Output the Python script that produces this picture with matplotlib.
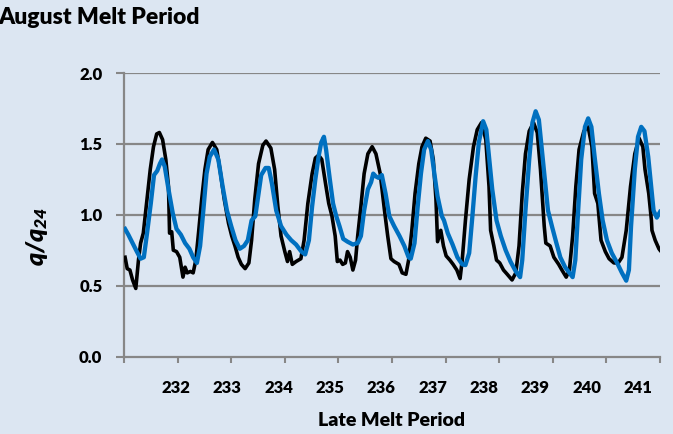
import matplotlib
matplotlib.use("Agg")
import matplotlib.pyplot as plt
from matplotlib.ticker import FixedLocator, NullFormatter

# ---- data (x = days since start of period, y = q/q24) ----
black_t = [0.02, 0.06, 0.11, 0.16, 0.22, 0.27, 0.31, 0.36, 0.42, 0.49, 0.55, 0.61, 0.66, 0.72, 0.78, 0.83,
           0.85, 0.89, 0.92, 0.98, 1.04, 1.10, 1.14, 1.18, 1.24, 1.29, 1.34, 1.39, 1.45, 1.51, 1.57, 1.65,
           1.73, 1.79, 1.87, 1.95, 2.01, 2.07, 2.13, 2.19, 2.26, 2.33, 2.38, 2.44, 2.51, 2.59, 2.65, 2.74,
           2.81, 2.87, 2.93, 3.00, 3.05, 3.09, 3.14, 3.21, 3.30, 3.36, 3.43, 3.51, 3.57, 3.63, 3.69, 3.76,
           3.82, 3.88, 3.94, 3.98, 4.03, 4.08, 4.13, 4.17, 4.22, 4.27, 4.32, 4.36, 4.42, 4.48, 4.55, 4.63,
           4.70, 4.78, 4.86, 4.92, 4.98, 5.04, 5.13, 5.19, 5.26, 5.31, 5.37, 5.43, 5.50, 5.56, 5.63, 5.71,
           5.77, 5.82, 5.85, 5.91, 5.96, 6.01, 6.08, 6.14, 6.21, 6.27, 6.31, 6.37, 6.44, 6.52, 6.59, 6.67,
           6.75, 6.81, 6.84, 6.90, 6.95, 7.01, 7.08, 7.15, 7.24, 7.31, 7.37, 7.43, 7.49, 7.56, 7.64, 7.71,
           7.77, 7.84, 7.87, 7.95, 8.02, 8.11, 8.17, 8.25, 8.31, 8.37, 8.43, 8.49, 8.58, 8.66, 8.73, 8.78,
           8.84, 8.90, 8.98, 9.05, 9.14, 9.22, 9.29, 9.37, 9.45, 9.53, 9.61, 9.68, 9.72, 9.79, 9.84, 9.85,
           9.91, 9.98, 10.00]
black_q = [0.70, 0.62, 0.61, 0.54, 0.48, 0.68, 0.80, 0.87, 1.08, 1.32, 1.48, 1.57, 1.58, 1.53, 1.39, 1.20,
           0.87, 0.88, 0.75, 0.74, 0.70, 0.56, 0.63, 0.59, 0.60, 0.59, 0.68, 0.87, 1.11, 1.32, 1.46, 1.51,
           1.46, 1.32, 1.11, 0.94, 0.85, 0.78, 0.70, 0.65, 0.62, 0.66, 0.82, 1.11, 1.36, 1.49, 1.52, 1.47,
           1.32, 1.06, 0.85, 0.74, 0.67, 0.74, 0.65, 0.67, 0.69, 0.82, 1.08, 1.29, 1.40, 1.42, 1.39, 1.22,
           1.08, 0.99, 0.85, 0.67, 0.68, 0.65, 0.66, 0.74, 0.70, 0.61, 0.68, 0.85, 1.06, 1.29, 1.43, 1.48,
           1.43, 1.29, 1.03, 0.85, 0.69, 0.67, 0.65, 0.59, 0.58, 0.68, 0.89, 1.15, 1.36, 1.48, 1.54, 1.52,
           1.39, 1.11, 0.81, 0.89, 0.78, 0.71, 0.68, 0.65, 0.61, 0.55, 0.68, 0.96, 1.25, 1.48, 1.60, 1.65,
           1.53, 1.20, 0.89, 0.78, 0.68, 0.66, 0.61, 0.58, 0.54, 0.59, 0.78, 1.15, 1.43, 1.59, 1.65, 1.58,
           1.32, 0.92, 0.80, 0.78, 0.70, 0.65, 0.61, 0.56, 0.61, 0.85, 1.20, 1.46, 1.59, 1.62, 1.48, 1.15,
           1.08, 0.82, 0.74, 0.69, 0.66, 0.66, 0.70, 0.89, 1.20, 1.43, 1.54, 1.48, 1.32, 1.15, 0.96, 0.89,
           0.82, 0.76, 0.75]

blue_t = [0.02, 0.08, 0.16, 0.24, 0.31, 0.37, 0.43, 0.50, 0.56, 0.62, 0.67, 0.71, 0.76, 0.83, 0.91, 0.98,
          1.06, 1.14, 1.22, 1.29, 1.36, 1.42, 1.48, 1.54, 1.60, 1.68, 1.76, 1.84, 1.92, 2.00, 2.08, 2.16,
          2.24, 2.31, 2.38, 2.45, 2.51, 2.56, 2.64, 2.70, 2.76, 2.84, 2.93, 3.03, 3.12, 3.21, 3.31, 3.38,
          3.45, 3.51, 3.57, 3.63, 3.68, 3.73, 3.77, 3.84, 3.90, 3.96, 4.02, 4.09, 4.17, 4.27, 4.36, 4.42,
          4.48, 4.55, 4.61, 4.65, 4.70, 4.75, 4.81, 4.88, 4.95, 5.04, 5.14, 5.23, 5.31, 5.35, 5.42, 5.48,
          5.54, 5.60, 5.67, 5.73, 5.79, 5.85, 5.93, 5.97, 6.04, 6.13, 6.22, 6.31, 6.37, 6.44, 6.50, 6.56,
          6.62, 6.70, 6.76, 6.81, 6.87, 6.95, 7.03, 7.12, 7.21, 7.31, 7.39, 7.43, 7.49, 7.56, 7.62, 7.68,
          7.74, 7.79, 7.85, 7.91, 7.99, 8.06, 8.14, 8.23, 8.33, 8.37, 8.42, 8.47, 8.53, 8.60, 8.66, 8.72,
          8.78, 8.86, 8.93, 9.01, 9.10, 9.20, 9.29, 9.37, 9.42, 9.46, 9.53, 9.59, 9.65, 9.71, 9.78, 9.84,
          9.88, 9.94, 10.00]
blue_q = [0.90, 0.86, 0.80, 0.74, 0.69, 0.70, 0.87, 1.08, 1.28, 1.31, 1.36, 1.39, 1.34, 1.18, 1.01, 0.90,
          0.86, 0.80, 0.76, 0.70, 0.66, 0.78, 1.03, 1.29, 1.41, 1.46, 1.39, 1.20, 1.03, 0.92, 0.82, 0.76,
          0.78, 0.82, 0.96, 0.99, 1.15, 1.28, 1.33, 1.33, 1.22, 1.03, 0.92, 0.86, 0.82, 0.79, 0.74, 0.72,
          0.82, 1.06, 1.25, 1.41, 1.51, 1.55, 1.46, 1.25, 1.08, 0.99, 0.92, 0.83, 0.81, 0.79, 0.80, 0.85,
          1.03, 1.18, 1.23, 1.29, 1.27, 1.26, 1.28, 1.15, 0.99, 0.92, 0.85, 0.78, 0.70, 0.69, 0.80, 1.06,
          1.29, 1.46, 1.52, 1.46, 1.29, 1.13, 0.99, 0.96, 0.87, 0.79, 0.70, 0.65, 0.645, 0.73, 0.99, 1.27,
          1.51, 1.66, 1.60, 1.41, 1.18, 0.96, 0.85, 0.75, 0.67, 0.60, 0.56, 0.68, 1.03, 1.39, 1.65, 1.73,
          1.67, 1.48, 1.25, 1.03, 0.91, 0.81, 0.70, 0.63, 0.58, 0.56, 0.68, 1.01, 1.39, 1.62, 1.68, 1.62,
          1.41, 1.15, 0.96, 0.82, 0.73, 0.66, 0.59, 0.535, 0.61, 0.92, 1.32, 1.55, 1.62, 1.59, 1.41, 1.18,
          1.03, 0.98, 1.02]

day_labels = ["232", "233", "234", "235", "236", "237", "238", "239", "240", "241"]
y_ticks = [0.0, 0.5, 1.0, 1.5, 2.0]

# ---- style ----
BG = "#DCE6F2"
GRID = "#878787"
WEIGHT = "heavy"
plt.rcParams["font.family"] = ["Lato", "DejaVu Sans"]
plt.rcParams["mathtext.default"] = "regular"

fig = plt.figure(figsize=(6.73, 4.34), dpi=100, facecolor=BG)
ax = fig.add_axes([124 / 673, 1 - 356.5 / 434, (660 - 124) / 673, (356.5 - 73) / 434])
ax.set_facecolor(BG)

ax.plot(black_t, black_q, color="black", lw=2.6, solid_joinstyle="round", zorder=3)
ax.plot(blue_t, blue_q, color="#0070C0", lw=3.1, solid_joinstyle="round", zorder=4)

ax.set_xlim(0, 10)
ax.set_ylim(0, 2.0)

# y axis
ax.set_yticks(y_ticks)
ax.set_yticklabels([f"{v:.1f}" for v in y_ticks], fontsize=12, fontweight=WEIGHT)
ax.tick_params(axis="y", length=5.5, width=1.5, color=GRID, pad=10)
for v in y_ticks[1:]:
    ax.axhline(v, color=GRID, lw=1.6, zorder=1)

# x axis: tick marks at day boundaries, labels at their own positions
n_days = len(day_labels)
ax.xaxis.set_minor_locator(FixedLocator(list(range(0, n_days + 1))))
ax.xaxis.set_minor_formatter(NullFormatter())
label_pos = [0.97 + i * 0.958 for i in range(n_days)]
ax.set_xticks(label_pos)
ax.set_xticklabels(day_labels, fontsize=12, fontweight=WEIGHT)
ax.tick_params(axis="x", which="major", length=0, pad=17)
ax.tick_params(axis="x", which="minor", length=4.5, width=1.5, color=GRID)

for s in ["top", "right"]:
    ax.spines[s].set_visible(False)
for s in ["left", "bottom"]:
    ax.spines[s].set_color(GRID)
    ax.spines[s].set_linewidth(1.6)

fig.text(-0.002, 1 - 17 / 434, "August Melt Period", fontsize=16.5, fontweight=WEIGHT,
         ha="left", va="center")
fig.text(392 / 673, 1 - 421 / 434, "Late Melt Period", fontsize=14, fontweight=WEIGHT,
         ha="center", va="center")
fig.text(37 / 673, 1 - 236 / 434, r"q/q$_{24}$", fontsize=18, fontweight=WEIGHT,
         fontstyle="italic", rotation=90, ha="center", va="center")

fig.savefig("out.png", dpi=100, facecolor=BG)
